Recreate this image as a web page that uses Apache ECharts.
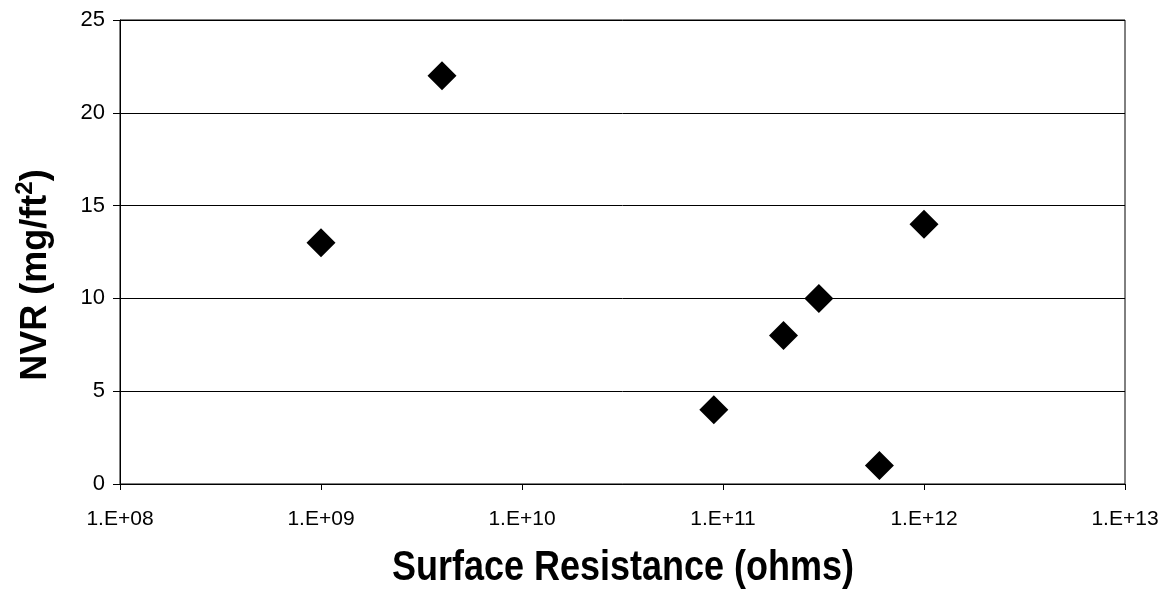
<!DOCTYPE html>
<html>
<head>
<meta charset="utf-8">
<script src="https://cdn.jsdelivr.net/npm/echarts@6/dist/echarts.min.js"></script>
<style>
html,body{margin:0;padding:0;background:#fff;}
#chart{width:1172px;height:595px;}
</style>
</head>
<body>
<div id="chart"></div>
<script>
// Surface resistance (ohms) and NVR (mg/ft^2)
const resistance = [1e9, 4e9, 9e10, 2e11, 3e11, 6e11, 1e12];
const nvr = [13, 22, 4, 8, 10, 1, 14];
const xTitle = 'Surface Resistance (ohms)';
const yTitleMain = 'NVR (mg/ft';
const yTitleSup = '2';

const points = resistance.map((r, i) => [r, nvr[i]]);
const FONT = '"Liberation Sans", Arial, sans-serif';

const chart = echarts.init(document.getElementById('chart'), null, {renderer: 'canvas'});
chart.setOption({
  animation: false,
  backgroundColor: '#fff',
  grid: {left: 120, right: 47, top: 20, bottom: 111, show: true, borderColor: '#000', borderWidth: 1},
  graphic: [{
    type: 'text',
    x: 36, y: 275,
    rotation: Math.PI / 2,
    style: {
      text: yTitleMain + '{sup|' + yTitleSup + '})',
      fontFamily: FONT, fontSize: 36, fontWeight: 'bold', fill: '#000',
      lineHeight: 46,
      align: 'center', verticalAlign: 'middle',
      rich: {
        sup: {fontFamily: FONT, fontSize: 24, fontWeight: 'bold', fill: '#000', lineHeight: 24, verticalAlign: 'top'}
      }
    }
  }, {
    type: 'text',
    x: 623, y: 568,
    scaleY: 1.2,
    style: {
      text: xTitle,
      fontFamily: FONT, fontSize: 36, fontWeight: 'bold', fill: '#000',
      align: 'center', verticalAlign: 'middle'
    }
  }],
  xAxis: {
    type: 'log', logBase: 10, min: 1e8, max: 1e13,
    axisLine: {show: true, lineStyle: {color: '#000', width: 1}},
    axisTick: {show: true, length: 6, lineStyle: {color: '#000'}},
    minorTick: {show: false},
    splitLine: {show: false},
    axisLabel: {
      fontFamily: FONT, fontSize: 21, color: '#000', margin: 25,
      formatter: v => { const e = Math.round(Math.log10(v)); return '1.E+' + (e < 10 ? '0' + e : e); }
    }
  },
  yAxis: {
    type: 'value', min: 0, max: 25, interval: 5,
    axisLine: {show: true, lineStyle: {color: '#000', width: 1}},
    axisTick: {show: true, length: 7, lineStyle: {color: '#000'}},
    splitLine: {show: true, lineStyle: {color: '#000', width: 1}},
    axisLabel: {fontFamily: FONT, fontSize: 22, color: '#000', margin: 15}
  },
  series: [{
    type: 'scatter',
    data: points,
    symbol: 'diamond',
    symbolSize: 29,
    itemStyle: {color: '#000', opacity: 1}
  }]
});
</script>
</body>
</html>
